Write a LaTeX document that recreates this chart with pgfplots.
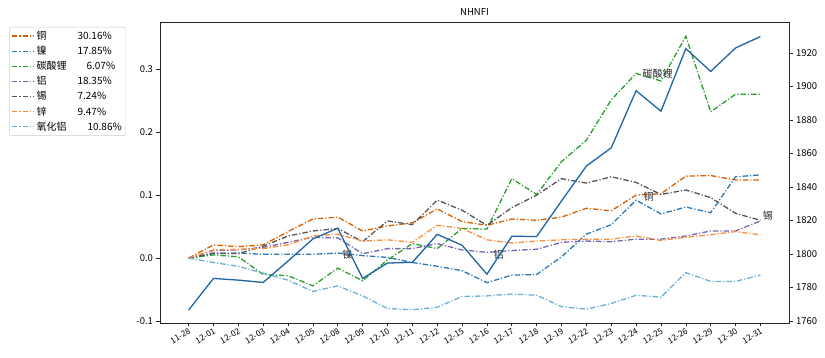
\documentclass[border=0pt]{standalone}
\usepackage{pgfplots}
\pgfplotsset{compat=1.18}
\usepackage{fontspec}
\setmainfont{Noto Sans CJK SC}
\definecolor{cu}{HTML}{D95F02}
\definecolor{ni}{HTML}{2B78B4}
\definecolor{li}{HTML}{2CA02C}
\definecolor{al}{HTML}{7566B0}
\definecolor{sn}{HTML}{555555}
\definecolor{zn}{HTML}{F98E3C}
\definecolor{alo}{HTML}{6BAED6}
\definecolor{idx}{HTML}{1F64A4}
\pgfplotstableread{
i cu ni li al sn zn alo
0 0.000 0.000 0.000 0.000 0.000 0.000 0.000
1 0.021 0.007 0.005 0.012 0.008 0.013 -0.007
2 0.018 0.008 0.002 0.013 0.007 0.014 -0.013
3 0.021 0.006 -0.026 0.017 0.019 0.015 -0.024
4 0.042 0.006 -0.028 0.025 0.035 0.021 -0.035
5 0.062 0.006 -0.044 0.033 0.043 0.035 -0.053
6 0.065 0.008 -0.016 0.032 0.047 0.038 -0.044
7 0.043 0.004 -0.036 0.007 0.026 0.027 -0.060
8 0.051 0.001 -0.003 0.015 0.059 0.029 -0.080
9 0.056 -0.007 0.023 0.015 0.053 0.025 -0.082
10 0.078 -0.013 0.015 0.023 0.092 0.052 -0.078
11 0.058 -0.020 0.047 0.013 0.076 0.047 -0.061
12 0.052 -0.039 0.046 0.009 0.052 0.029 -0.060
13 0.062 -0.027 0.126 0.012 0.080 0.024 -0.057
14 0.060 -0.026 0.101 0.014 0.100 0.027 -0.059
15 0.065 0.002 0.153 0.025 0.126 0.029 -0.077
16 0.079 0.038 0.187 0.027 0.119 0.030 -0.081
17 0.075 0.053 0.251 0.026 0.129 0.030 -0.072
18 0.100 0.092 0.293 0.030 0.120 0.035 -0.059
19 0.102 0.070 0.281 0.030 0.101 0.028 -0.062
20 0.130 0.081 0.352 0.035 0.108 0.033 -0.023
21 0.131 0.072 0.232 0.043 0.096 0.037 -0.037
22 0.124 0.129 0.260 0.043 0.071 0.042 -0.037
23 0.124 0.132 0.260 0.059 0.060 0.037 -0.027
}\metals
\pgfplotstableread{
i v
0 1766.5
1 1785.4
2 1784.4
3 1783.0
4 1795.8
5 1809.0
6 1815.4
7 1785.4
8 1794.6
9 1795.0
10 1811.7
11 1805.2
12 1787.9
13 1810.6
14 1810.4
15 1831.7
16 1852.5
17 1863.4
18 1897.5
19 1885.2
20 1922.6
21 1909.0
22 1923.0
23 1929.8
}\nhnfi
\begin{document}
\begin{tikzpicture}
\pgfplotsset{
  every axis/.append style={scale only axis, width=629pt, height=301pt,
    xmin=-1.15, xmax=24.15, at={(0,0)}, anchor=south west,
    axis line style={black!85}, tick style={black!85, line width=0.6pt},
    major tick length=3.5pt, tick align=outside},
  dd/.style={dash pattern=on 5.5pt off 2pt on 1.2pt off 2pt, line width=1.3pt},
}
\path (-160pt,-35pt) rectangle (665pt,323pt);
\begin{axis}[
  ymin=-0.103, ymax=0.3746,
  ytick={-0.1,0,0.1,0.2,0.3}, yticklabels={-0.1,0.0,0.1,0.2,0.3},
  xtick={0,...,23},
  xticklabels={11-28,12-01,12-02,12-03,12-04,12-05,12-08,12-09,12-10,12-11,12-12,12-15,12-16,12-17,12-18,12-19,12-22,12-23,12-24,12-25,12-26,12-29,12-30,12-31},
  x tick label style={rotate=30, anchor=north east, font=\fontsize{8.3}{9}\selectfont, inner sep=1pt},
  y tick label style={font=\fontsize{9.5}{11}\selectfont},
  xtick pos=bottom, ytick pos=left,
  /pgf/number format/assume math mode=true,
  title={NHNFI}, title style={font=\fontsize{9.5}{11}\selectfont, yshift=-3pt},
  legend style={at={(axis description cs:0,1)}, anchor=north east, xshift=-34pt, yshift=-5pt,
    draw=black!20, rounded corners=2pt, font=\fontsize{10}{11}\selectfont,
    row sep=1.2pt, inner sep=2pt},
  legend cell align=left,
  legend image code/.code={\draw[#1, line width=1.3pt] (0pt,0pt) -- (22pt,0pt);},
]
\addplot[cu, dd] table[x=i, y=cu] {\metals};
\addlegendentry{\makebox[41pt][l]{铜}30.16\%}
\addplot[ni, dd] table[x=i, y=ni] {\metals};
\addlegendentry{\makebox[41pt][l]{镍}17.85\%}
\addplot[li, dd] table[x=i, y=li] {\metals};
\addlegendentry{\makebox[50pt][l]{碳酸锂}6.07\%}
\addplot[al, dd] table[x=i, y=al] {\metals};
\addlegendentry{\makebox[41pt][l]{铝}18.35\%}
\addplot[sn, dd] table[x=i, y=sn] {\metals};
\addlegendentry{\makebox[41pt][l]{锡}7.24\%}
\addplot[zn, dd] table[x=i, y=zn] {\metals};
\addlegendentry{\makebox[41pt][l]{锌}9.47\%}
\addplot[alo, dd] table[x=i, y=alo] {\metals};
\addlegendentry{\makebox[51pt][l]{氧化铝}10.86\%}
\node[font=\fontsize{10}{11}\selectfont, text=black!85] at (axis cs:18.87,0.292) {碳酸锂};
\node[font=\fontsize{10}{11}\selectfont, text=black!85] at (axis cs:18.5,0.097) {铜};
\node[font=\fontsize{10}{11}\selectfont, text=black!85] at (axis cs:23.3,0.068) {锡};
\node[font=\fontsize{10}{11}\selectfont, text=black!85] at (axis cs:6.39,0.006) {镍};
\node[font=\fontsize{10}{11}\selectfont, text=black!85] at (axis cs:12.47,0.006) {铝};
\end{axis}
\begin{axis}[
  ymin=1758.8, ymax=1938.5,
  ytick={1760,1780,...,1920},
  axis x line=none, axis y line*=right, ytick pos=right,
  y tick label style={font=\fontsize{9.5}{11}\selectfont},
  /pgf/number format/assume math mode=true,
  /pgf/number format/1000 sep={},
]
\addplot[idx, line width=1.3pt] table[x=i, y=v] {\nhnfi};
\end{axis}
\end{tikzpicture}
\end{document}
